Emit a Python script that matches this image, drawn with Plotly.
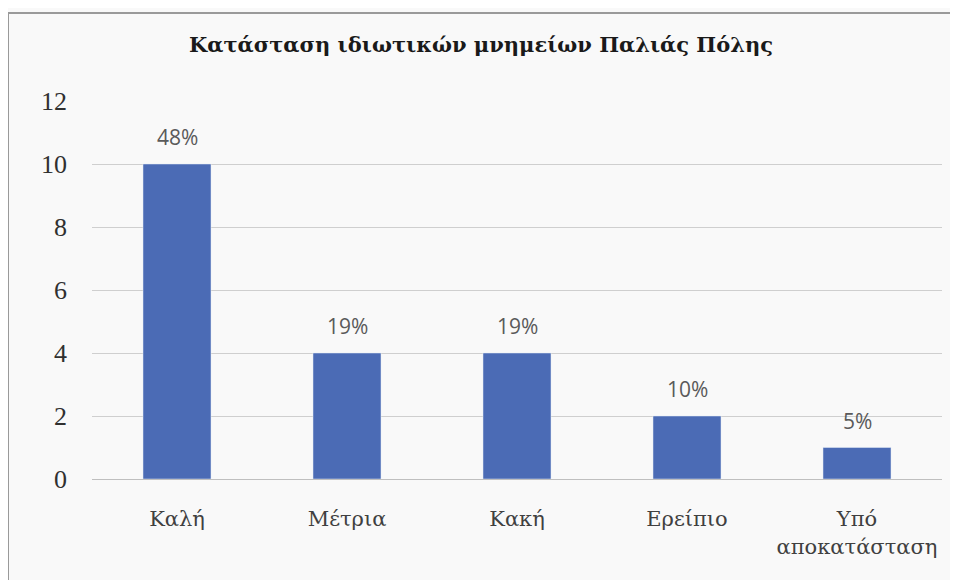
import plotly.graph_objects as go

categories = ["Καλή", "Μέτρια", "Κακή", "Ερείπιο", "Υπό<br>αποκατάσταση"]
values = [10, 4, 4, 2, 1]
pct_labels = ["48%", "19%", "19%", "10%", "5%"]
y_ticks = [0, 2, 4, 6, 8, 10, 12]

fig = go.Figure(go.Bar(
    x=categories, y=values,
    marker=dict(color="#4b6bb5"), width=0.4, hoverinfo="x+y",
))

for c, v, t in zip(categories, values, pct_labels):
    fig.add_annotation(x=c, y=v, text=t, showarrow=False, yanchor="middle", yshift=27,
                       font=dict(family="Open Sans, Liberation Sans, sans-serif", size=21,
                                 color="#5a5a5a"))

# page has an 8px body offset
OFF = 8
W, H = 958 - 2 * OFF, 588 - 2 * OFF
ml, mt = 92 - OFF, 101 - OFF
ph = 378
pw = 850
mr = W - ml - pw
mb = H - mt - ph

def px(page_x):
    return (page_x - OFF - ml) / pw

def py(page_y):
    return (H - mb - (page_y - OFF)) / ph

serif = "DejaVu Serif"

fig.update_layout(
    width=W, height=H,
    margin=dict(l=ml, r=mr, t=mt, b=mb),
    paper_bgcolor="#f9f9f9", plot_bgcolor="#f9f9f9",
    title=dict(text="<b>Κατάσταση ιδιωτικών μνημείων Παλιάς Πόλης</b>",
               x=(481 - OFF) / W, xanchor="center", y=1 - (45 - OFF) / H, yanchor="middle",
               font=dict(family=serif, size=21, color="#1a1a1a")),
    showlegend=False,
    xaxis=dict(tickfont=dict(family=serif, size=21, color="#404040"),
               showgrid=False, showline=True, linecolor="#bfbfbf", linewidth=1,
               ticks="", ticklabelstandoff=21),
    yaxis=dict(range=[0, 12], tickvals=y_ticks,
               tickfont=dict(family="Liberation Serif", size=26, color="#303030"),
               showgrid=True, gridcolor="#cfcfcf", gridwidth=1, zeroline=False,
               showline=False, ticks="", ticklabelstandoff=24),
    shapes=[dict(type="rect", xref="paper", yref="paper",
                 x0=px(8), x1=px(1000), y0=py(620), y1=py(13),
                 line=dict(color="#9a9a9a", width=2), fillcolor="rgba(0,0,0,0)", layer="below")],
)

fig.write_html("out.html")
